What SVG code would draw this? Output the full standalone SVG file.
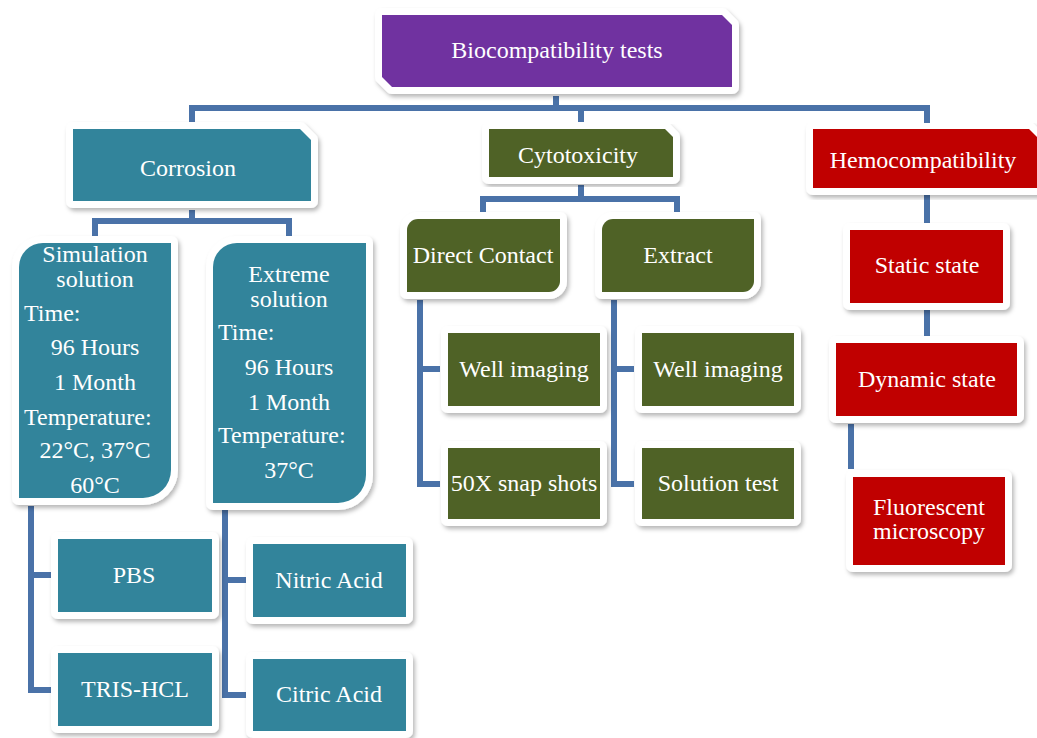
<svg xmlns="http://www.w3.org/2000/svg" width="1037" height="738" viewBox="0 0 1037 738">
<defs>
<filter id="sh" x="-10%" y="-10%" width="125%" height="130%">
<feDropShadow dx="2" dy="3" stdDeviation="2" flood-color="#000" flood-opacity="0.28"/>
</filter>
</defs>
<style>
.box{stroke:#fff;stroke-width:14;stroke-linejoin:round;paint-order:stroke;filter:url(#sh)}
.pu{fill:#7030a0}.te{fill:#31849b}.ol{fill:#4f6228}.re{fill:#c00000}
text{font-family:"Liberation Serif","Times New Roman",serif;font-size:24px;fill:#fff}
.c{text-anchor:middle}
.ln{fill:none;stroke:#4a72a8;stroke-width:6;stroke-linejoin:miter;stroke-linecap:butt}
</style>
<rect width="1037" height="738" fill="#fff"/>
<g id="connectors">
<path class="ln" d="M556,96 V108 M192,122 V108 H927 V123 M581,108 V122"/>
<path class="ln" d="M192,210 V221 M95,236 V221 H289 V236"/>
<path class="ln" d="M581,185 V199 M483,213 V199 H677 V213"/>
<path class="ln" d="M927,195 V223 M927,310 V337 M851,424 V469"/>
<path class="ln" d="M420,300 V484 H440 M420,369 H440"/>
<path class="ln" d="M614,300 V484 H634 M614,369 H634"/>
<path class="ln" d="M31,506 V690 H51 M31,575 H51"/>
<path class="ln" d="M225,510 V695 H246 M225,580 H246"/>
</g>
<g id="n-bio"><path class="box pu" d="M382,15 H722 L732,25 V87 H392 L382,77 Z"/><text class="c" x="557" y="58">Biocompatibility tests</text></g>
<g id="n-corrosion"><path class="box te" d="M73,129 H300 L311,140 V201 H73 Z"/><text class="c" x="188" y="176">Corrosion</text></g>
<g id="n-cyto"><path class="box ol" d="M489,129 H665 L673,137 V177 H489 Z"/><text class="c" x="578" y="163">Cytotoxicity</text></g>
<g id="n-hemo"><path class="box re" d="M813,129 H1029 L1039,139 V188 H813 Z"/><text class="c" x="923" y="168">Hemocompatibility</text></g>
<g id="n-sim"><path class="box te" d="M43,243 H171 V470 A28,28 0 0 1 143,498 H19 V267 A24,24 0 0 1 43,243 Z"/>
<text class="c" x="95" y="262">Simulation</text><text class="c" x="95" y="287">solution</text>
<text x="24" y="321">Time:</text><text class="c" x="95" y="355">96 Hours</text><text class="c" x="95" y="390">1 Month</text>
<text x="24" y="425">Temperature:</text><text class="c" x="95" y="458">22°C, 37°C</text><text class="c" x="95" y="493">60°C</text></g>
<g id="n-ext"><path class="box te" d="M237,243 H366 V475 A28,28 0 0 1 338,503 H213 V267 A24,24 0 0 1 237,243 Z"/>
<text class="c" x="289" y="282">Extreme</text><text class="c" x="289" y="307">solution</text>
<text x="218" y="340">Time:</text><text class="c" x="289" y="375">96 Hours</text><text class="c" x="289" y="410">1 Month</text>
<text x="218" y="443">Temperature:</text><text class="c" x="289" y="478">37°C</text></g>
<g id="n-direct"><path class="box ol" d="M418,219 H560 V281 A11,11 0 0 1 549,292 H407 V230 A11,11 0 0 1 418,219 Z"/><text class="c" x="483" y="263">Direct Contact</text></g>
<g id="n-extract"><path class="box ol" d="M613,219 H754 V281 A11,11 0 0 1 743,292 H602 V230 A11,11 0 0 1 613,219 Z"/><text class="c" x="678" y="263">Extract</text></g>
<g id="n-well1"><rect class="box ol" x="448" y="333" width="152" height="73"/><text class="c" x="524" y="377">Well imaging</text></g>
<g id="n-snap"><rect class="box ol" x="448" y="448" width="152" height="71"/><text class="c" x="524" y="491">50X snap shots</text></g>
<g id="n-well2"><rect class="box ol" x="642" y="333" width="152" height="73"/><text class="c" x="718" y="377">Well imaging</text></g>
<g id="n-soltest"><rect class="box ol" x="642" y="448" width="152" height="71"/><text class="c" x="718" y="491">Solution test</text></g>
<g id="n-static"><rect class="box re" x="850" y="230" width="153" height="73"/><text class="c" x="927" y="273">Static state</text></g>
<g id="n-dynamic"><rect class="box re" x="836" y="343" width="181" height="73"/><text class="c" x="927" y="387">Dynamic state</text></g>
<g id="n-fluor"><rect class="box re" x="853" y="477" width="152" height="88"/><text class="c" x="929" y="515">Fluorescent</text><text class="c" x="929" y="539">microscopy</text></g>
<g id="n-pbs"><rect class="box te" x="58" y="539" width="154" height="73"/><text class="c" x="134" y="583">PBS</text></g>
<g id="n-tris"><rect class="box te" x="58" y="653" width="154" height="73"/><text class="c" x="135" y="697">TRIS-HCL</text></g>
<g id="n-nitric"><rect class="box te" x="253" y="544" width="153" height="73"/><text class="c" x="329" y="588">Nitric Acid</text></g>
<g id="n-citric"><rect class="box te" x="253" y="659" width="153" height="72"/><text class="c" x="329" y="702">Citric Acid</text></g>
</svg>
